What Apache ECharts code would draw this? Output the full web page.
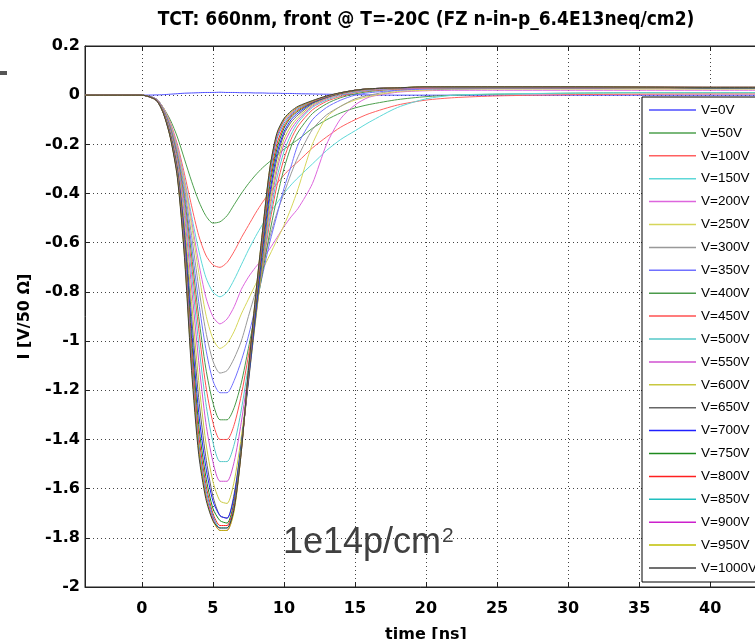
<!DOCTYPE html>
<html>
<head>
<meta charset="utf-8">
<script src="https://cdn.jsdelivr.net/npm/echarts@6/dist/echarts.min.js"></script>
<style>
  html, body { margin: 0; padding: 0; background: #fff; }
  #container { width: 755px; height: 639px; }
</style>
</head>
<body>
<div id="container"></div>
<script>
// time axis [ns]
var time = [-4, 0, 1, 1.5, 2, 2.5, 3, 3.5, 4, 4.5, 5, 5.5, 6, 6.5, 7, 7.5, 8, 8.5, 9, 9.5,
            10, 10.5, 11, 12, 13, 14, 15, 16, 18, 20, 22, 25, 30, 35, 40, 44];

// current [V/50 Ohm] per bias voltage
var i0V    = [0, 0, 0.001, 0.002, 0.004, 0.006, 0.008, 0.009, 0.01, 0.011, 0.011, 0.012, 0.011, 0.011, 0.01, 0.01, 0.009, 0.009, 0.008, 0.008, 0.007, 0.007, 0.006, 0.005, 0.004, 0.003, 0.002, 0.001, 0, 0, 0, 0, 0, 0, 0, 0];
var i50V   = [0, 0, -0.015, -0.05, -0.10, -0.17, -0.26, -0.35, -0.43, -0.49, -0.52, -0.515, -0.49, -0.445, -0.40, -0.36, -0.325, -0.295, -0.27, -0.245, -0.22, -0.2, -0.18, -0.135, -0.1, -0.072, -0.052, -0.038, -0.018, -0.006, 0, 0.004, 0.008, 0.01, 0.01, 0.01];
var i100V  = [0, 0, -0.015, -0.05, -0.11, -0.20, -0.32, -0.45, -0.57, -0.65, -0.69, -0.70, -0.68, -0.635, -0.58, -0.53, -0.48, -0.435, -0.395, -0.36, -0.325, -0.295, -0.27, -0.215, -0.17, -0.13, -0.10, -0.075, -0.04, -0.02, -0.01, -0.003, 0.002, 0.004, 0.005, 0.005];
var i150V  = [0, 0, -0.015, -0.05, -0.115, -0.21, -0.34, -0.49, -0.63, -0.74, -0.80, -0.82, -0.80, -0.75, -0.69, -0.63, -0.575, -0.525, -0.48, -0.44, -0.40, -0.365, -0.335, -0.28, -0.225, -0.18, -0.145, -0.11, -0.05, -0.015, 0, 0.005, 0.008, 0.01, 0.01, 0.01];
var i200V  = [0, 0, -0.015, -0.05, -0.115, -0.21, -0.35, -0.51, -0.68, -0.82, -0.90, -0.93, -0.91, -0.86, -0.79, -0.74, -0.70, -0.665, -0.625, -0.58, -0.535, -0.495, -0.46, -0.36, -0.20, -0.095, -0.04, -0.008, 0.012, 0.018, 0.02, 0.02, 0.02, 0.02, 0.02, 0.02];
var i250V  = [0, 0, -0.015, -0.05, -0.12, -0.22, -0.36, -0.53, -0.72, -0.89, -0.99, -1.03, -1.01, -0.96, -0.89, -0.83, -0.77, -0.71, -0.65, -0.59, -0.53, -0.46, -0.38, -0.20, -0.09, -0.045, -0.02, -0.005, 0.015, 0.02, 0.025, 0.025, 0.025, 0.025, 0.025, 0.025];
var i300V  = [0, 0, -0.015, -0.055, -0.125, -0.23, -0.38, -0.57, -0.78, -0.96, -1.08, -1.13, -1.12, -1.07, -1.00, -0.90, -0.80, -0.69, -0.58, -0.48, -0.40, -0.32, -0.25, -0.14, -0.08, -0.045, -0.015, 0, 0.02, 0.025, 0.025, 0.027, 0.027, 0.027, 0.027, 0.027];
var i350V  = [0, 0, -0.015, -0.055, -0.13, -0.24, -0.40, -0.61, -0.84, -1.03, -1.16, -1.21, -1.21, -1.16, -1.08, -0.98, -0.86, -0.73, -0.60, -0.49, -0.38, -0.29, -0.20, -0.10, -0.05, -0.02, 0, 0.01, 0.02, 0.025, 0.027, 0.027, 0.027, 0.027, 0.027, 0.027];
var i400V  = [0, 0, -0.017, -0.06, -0.135, -0.25, -0.42, -0.65, -0.90, -1.11, -1.25, -1.32, -1.32, -1.27, -1.17, -1.03, -0.88, -0.72, -0.56, -0.42, -0.30, -0.21, -0.15, -0.075, -0.035, -0.01, 0.005, 0.015, 0.025, 0.028, 0.028, 0.028, 0.028, 0.028, 0.028, 0.027];
var i450V  = [0, 0, -0.017, -0.06, -0.14, -0.26, -0.44, -0.69, -0.95, -1.18, -1.33, -1.40, -1.40, -1.34, -1.22, -1.06, -0.88, -0.70, -0.52, -0.37, -0.26, -0.18, -0.125, -0.06, -0.025, -0.005, 0.01, 0.018, 0.025, 0.028, 0.03, 0.03, 0.03, 0.03, 0.028, 0.028];
var i500V  = [0, 0, -0.018, -0.062, -0.145, -0.27, -0.46, -0.73, -1.01, -1.25, -1.41, -1.49, -1.49, -1.42, -1.28, -1.10, -0.90, -0.69, -0.50, -0.34, -0.23, -0.16, -0.11, -0.05, -0.02, 0, 0.012, 0.02, 0.027, 0.03, 0.03, 0.03, 0.03, 0.03, 0.03, 0.03];
var i550V  = [0, 0, -0.018, -0.064, -0.15, -0.28, -0.49, -0.78, -1.08, -1.33, -1.49, -1.57, -1.57, -1.49, -1.33, -1.13, -0.91, -0.68, -0.47, -0.31, -0.20, -0.14, -0.10, -0.045, -0.015, 0.003, 0.015, 0.022, 0.028, 0.03, 0.03, 0.03, 0.03, 0.03, 0.03, 0.03];
var i600V  = [0, 0, -0.019, -0.066, -0.155, -0.29, -0.52, -0.84, -1.16, -1.41, -1.57, -1.65, -1.66, -1.57, -1.39, -1.16, -0.92, -0.68, -0.45, -0.29, -0.18, -0.125, -0.09, -0.04, -0.012, 0.005, 0.017, 0.024, 0.03, 0.032, 0.032, 0.032, 0.032, 0.03, 0.03, 0.03];
var i650V  = [0, 0, -0.019, -0.068, -0.16, -0.30, -0.55, -0.90, -1.23, -1.47, -1.63, -1.71, -1.72, -1.62, -1.42, -1.17, -0.91, -0.66, -0.42, -0.26, -0.16, -0.11, -0.08, -0.035, -0.01, 0.007, 0.018, 0.025, 0.03, 0.032, 0.032, 0.032, 0.032, 0.032, 0.03, 0.03];
var i700V  = [0, 0, -0.02, -0.069, -0.16, -0.305, -0.57, -0.95, -1.29, -1.51, -1.65, -1.71, -1.72, -1.63, -1.42, -1.16, -0.89, -0.63, -0.40, -0.24, -0.15, -0.10, -0.072, -0.032, -0.008, 0.008, 0.02, 0.026, 0.03, 0.032, 0.032, 0.032, 0.032, 0.032, 0.03, 0.03];
var i750V  = [0, 0, -0.02, -0.07, -0.162, -0.31, -0.59, -0.99, -1.34, -1.55, -1.68, -1.73, -1.74, -1.65, -1.43, -1.15, -0.87, -0.61, -0.37, -0.22, -0.135, -0.09, -0.065, -0.03, -0.007, 0.008, 0.02, 0.026, 0.03, 0.033, 0.033, 0.033, 0.033, 0.032, 0.03, 0.03];
var i800V  = [0, 0, -0.02, -0.07, -0.165, -0.315, -0.61, -1.03, -1.38, -1.58, -1.70, -1.75, -1.75, -1.66, -1.44, -1.14, -0.85, -0.59, -0.35, -0.20, -0.125, -0.085, -0.06, -0.028, -0.006, 0.009, 0.02, 0.026, 0.03, 0.033, 0.033, 0.033, 0.033, 0.033, 0.032, 0.032];
var i850V  = [0, 0, -0.02, -0.07, -0.167, -0.32, -0.62, -1.06, -1.41, -1.60, -1.71, -1.76, -1.76, -1.67, -1.44, -1.13, -0.84, -0.57, -0.33, -0.18, -0.115, -0.08, -0.055, -0.026, -0.005, 0.01, 0.02, 0.026, 0.03, 0.033, 0.033, 0.033, 0.033, 0.033, 0.032, 0.032];
var i900V  = [0, 0, -0.02, -0.07, -0.168, -0.325, -0.63, -1.08, -1.43, -1.62, -1.72, -1.77, -1.77, -1.68, -1.45, -1.13, -0.83, -0.56, -0.31, -0.17, -0.105, -0.075, -0.05, -0.025, -0.005, 0.01, 0.02, 0.026, 0.03, 0.033, 0.034, 0.034, 0.033, 0.033, 0.032, 0.032];
var i950V  = [0, 0, -0.02, -0.07, -0.17, -0.33, -0.65, -1.10, -1.44, -1.63, -1.73, -1.77, -1.77, -1.69, -1.45, -1.12, -0.82, -0.55, -0.30, -0.16, -0.10, -0.07, -0.048, -0.024, -0.004, 0.01, 0.02, 0.026, 0.03, 0.034, 0.034, 0.034, 0.034, 0.033, 0.032, 0.032];
var i1000V = [0, 0, -0.02, -0.072, -0.172, -0.335, -0.66, -1.12, -1.46, -1.64, -1.73, -1.76, -1.76, -1.68, -1.45, -1.12, -0.82, -0.55, -0.30, -0.155, -0.095, -0.065, -0.045, -0.022, -0.003, 0.01, 0.02, 0.026, 0.03, 0.034, 0.034, 0.034, 0.034, 0.033, 0.032, 0.032];

var names = ['V=0V', 'V=50V', 'V=100V', 'V=150V', 'V=200V', 'V=250V', 'V=300V', 'V=350V',
             'V=400V', 'V=450V', 'V=500V', 'V=550V', 'V=600V', 'V=650V', 'V=700V', 'V=750V',
             'V=800V', 'V=850V', 'V=900V', 'V=950V', 'V=1000V'];
var currents = [i0V, i50V, i100V, i150V, i200V, i250V, i300V, i350V, i400V, i450V, i500V,
                i550V, i600V, i650V, i700V, i750V, i800V, i850V, i900V, i950V, i1000V];
var colors = ['#4c4cff', '#4ea04e', '#ff6060', '#5ed8d8', '#dd66dd', '#d6d65a', '#999999',
              '#7070ff', '#4a9a4a', '#ff5050', '#55c8c8', '#d050d0', '#c8c840', '#666666',
              '#2020ff', '#1e8a1e', '#ff2020', '#20bfbf', '#cc20cc', '#bfbf00', '#404040'];
var xTicks = [0, 5, 10, 15, 20, 25, 30, 35, 40];

var axisFont = 'DejaVu Sans';
var myChart = echarts.init(document.getElementById('container'));

var series = [];
for (var k = 0; k < names.length; k++) {
    var pts = [];
    for (var i = 0; i < time.length; i++) {
        pts.push([time[i], currents[k][i]]);
    }
    series.push({
        name: names[k],
        type: 'line',
        data: pts,
        symbol: 'none',
        smooth: 0.25,
        lineStyle: {width: 1, color: colors[k]},
        itemStyle: {color: colors[k]}
    });
}

var option = {
    backgroundColor: '#ffffff',
    animation: false,
    color: colors,
    grid: {left: 85, right: -12, top: 46, bottom: 52, show: true,
           outerBoundsMode: 'none', containLabel: false,
           borderColor: '#222', borderWidth: 1, backgroundColor: '#fff'},
    legend: {
        orient: 'vertical', left: 642, top: 97,
        icon: 'rect', itemWidth: 47, itemHeight: 1.5, itemGap: 8.9,
        padding: [6, 20, 7, 7],
        borderColor: '#000', borderWidth: 1, backgroundColor: '#fff',
        textStyle: {fontSize: 13.5, lineHeight: 12, color: '#000', fontFamily: 'Liberation Sans'},
        data: names
    },
    xAxis: [{
        type: 'value', min: -4, max: 44, position: 'bottom',
        name: 'time [ns]', nameLocation: 'middle', nameGap: 40,
        nameTextStyle: {fontSize: 16, fontWeight: 'bold', color: '#000', fontFamily: axisFont},
        axisLine: {show: true, onZero: false, lineStyle: {color: '#222'}},
        axisTick: {inside: true, length: 5, customValues: xTicks, lineStyle: {color: '#222'}},
        axisLabel: {customValues: xTicks, margin: 14, fontSize: 16, fontWeight: 'bold',
                    color: '#000', fontFamily: axisFont},
        splitLine: {show: true, lineStyle: {type: [1, 3], color: '#444'}}
    }, {
        type: 'value', min: -4, max: 44, position: 'top',
        axisLine: {show: true, onZero: false, lineStyle: {color: '#222'}},
        axisTick: {inside: true, length: 5, customValues: xTicks, lineStyle: {color: '#222'}},
        axisLabel: {show: false},
        splitLine: {show: false}
    }],
    yAxis: {
        type: 'value', min: -2, max: 0.2, interval: 0.2,
        name: 'I [V/50 \u03a9]', nameLocation: 'middle', nameGap: 52, nameRotate: 90,
        nameTextStyle: {fontSize: 16, fontWeight: 'bold', color: '#000', fontFamily: axisFont},
        axisLine: {show: true, onZero: false, lineStyle: {color: '#222'}},
        axisTick: {inside: true, length: 5, lineStyle: {color: '#222'}},
        axisLabel: {margin: 5, fontSize: 16, fontWeight: 'bold', color: '#000', fontFamily: axisFont,
                    formatter: function (v) { return String(+v.toFixed(1)); }},
        splitLine: {show: true, lineStyle: {type: [1, 3], color: '#444'}}
    },
    graphic: [{
        type: 'text', x: 426, y: 20,
        style: {text: 'TCT: 660nm, front @ T=-20C (FZ n-in-p_6.4E13neq/cm2)',
                fontSize: 19, fontWeight: 'bold', fontFamily: 'DejaVu Sans Condensed', fill: '#000',
                align: 'center', verticalAlign: 'middle'}
    }, {
        type: 'text', x: 283, y: 543, z: 100,
        style: {text: '1e14p/cm', fontSize: 36, fontFamily: 'Liberation Sans', fill: '#404040',
                align: 'left', verticalAlign: 'middle'}
    }, {
        type: 'text', x: 442, y: 536, z: 100,
        style: {text: '2', fontSize: 21, fontFamily: 'Liberation Sans', fill: '#404040',
                align: 'left', verticalAlign: 'middle'}
    }, {
        type: 'rect', shape: {x: 0, y: 71, width: 7, height: 4},
        style: {fill: '#555'}
    }],
    series: series
};
myChart.setOption(option);
</script>
</body>
</html>
